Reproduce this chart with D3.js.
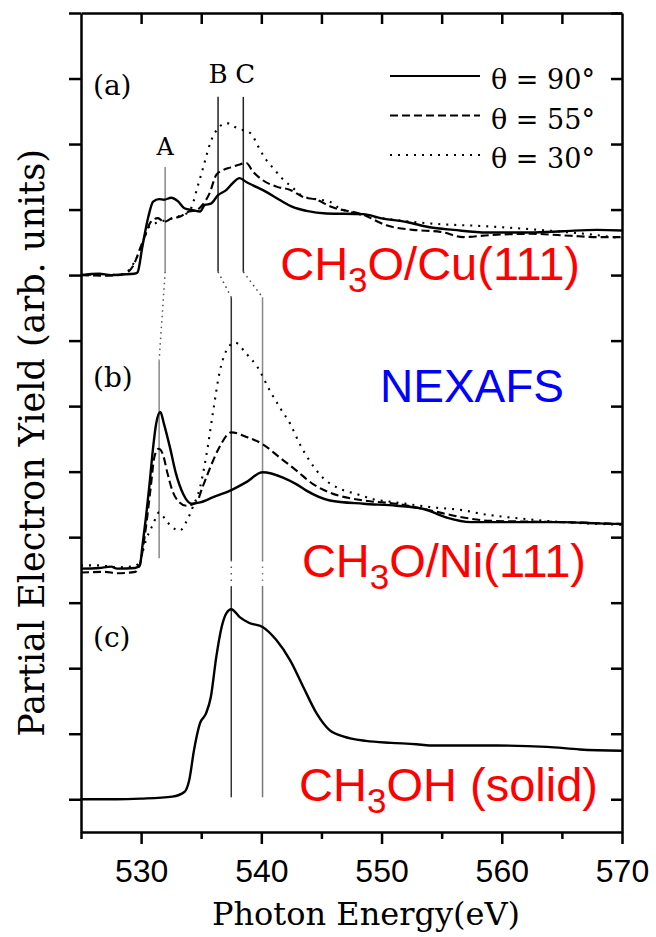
<!DOCTYPE html>
<html>
<head>
<meta charset="utf-8">
<script src="https://cdn.jsdelivr.net/npm/d3@7"></script>
<style>
  body { margin: 0; background: #fff; }
  svg { display: block; }
</style>
</head>
<body>
<svg id="chart" width="656" height="937"></svg>
<script>
// spectra: [photon energy (eV), yield above the panel baseline (arb. units)]
// (a) CH3O/Cu(111)
const cu90 = [[525,0],[526.5,0.02],[527.5,0],[528.5,0.01],[529.4,0.02],[529.7,0.04],[530.1,0.43],[530.6,0.89],[531.0,1.12],[531.5,1.16],[531.9,1.15],[532.5,1.18],[533.1,1.12],[533.6,1.02],[534.3,0.99],[534.9,0.97],[535.3,1.07],[535.8,1.09],[536.4,1.22],[537.1,1.30],[537.6,1.40],[538.2,1.48],[538.75,1.42],[539.3,1.37],[540.4,1.27],[541.5,1.15],[542.6,1.04],[543.75,0.98],[545.4,0.94],[548.5,0.93],[549.9,0.87],[552.1,0.81],[554.0,0.73],[556.0,0.69],[558.75,0.65],[562.4,0.65],[565.1,0.67],[567.9,0.69],[570,0.68]];
const cu55 = [[525,0],[527,-0.01],[528.5,0.01],[529.3,0.13],[530.0,0.45],[530.4,0.64],[530.8,0.81],[531.4,0.87],[531.9,0.81],[532.6,0.87],[533.2,0.89],[534.0,0.97],[534.6,0.99],[535.1,1.07],[535.7,1.25],[536.25,1.53],[536.8,1.60],[537.4,1.64],[538.05,1.68],[538.75,1.71],[539.3,1.58],[540.1,1.45],[541.25,1.35],[542.4,1.30],[543.5,1.19],[544.6,1.15],[545.7,1.05],[548.5,0.92],[550.4,0.76],[552.6,0.69],[554.9,0.66],[556.8,0.58],[559.0,0.61],[562.4,0.63],[565.7,0.60],[567.9,0.58],[570,0.58]];
const cu30 = [[525,0.01],[527,0],[528.6,0.02],[529.2,0.13],[529.6,0.25],[530.1,0.48],[530.7,0.74],[531.5,0.81],[532.1,0.84],[533.05,0.89],[534.0,0.97],[534.3,1.09],[534.7,1.35],[535.1,1.60],[535.4,1.80],[535.8,2.04],[536.1,2.16],[537.1,2.32],[537.8,2.26],[538.5,2.21],[539.2,2.15],[539.6,2.01],[540.4,1.76],[541.0,1.63],[541.7,1.48],[542.5,1.35],[543.6,1.19],[544.9,1.15],[545.7,1.12],[546.5,1.02],[547.9,0.94],[551.25,0.84],[554.6,0.78],[558.2,0.75],[562.4,0.70],[565.1,0.66],[567.9,0.61],[570,0.56]];
// (b) CH3O/Ni(111)
const ni90 = [[525,0],[526.5,0.01],[527.5,0.03],[528,0],[529.5,0.01],[529.9,0.05],[530.1,0.33],[530.4,0.78],[530.7,1.29],[531.0,1.85],[531.25,2.21],[531.6,2.39],[531.9,2.21],[532.4,1.85],[532.9,1.45],[533.5,1.14],[534.2,0.99],[534.9,1.01],[536.0,1.09],[537.4,1.19],[538.75,1.32],[540.1,1.47],[541.8,1.39],[542.9,1.29],[543.75,1.19],[545.7,1.04],[548.5,0.99],[551.25,0.96],[553.5,0.91],[555.4,0.78],[557.4,0.71],[561,0.71],[565.1,0.71],[567.9,0.69],[570,0.68]];
const ni55 = [[525,-0.06],[527,-0.05],[528,-0.07],[529.5,-0.05],[529.9,0.07],[530.4,0.63],[530.8,1.24],[531.1,1.70],[531.45,1.83],[531.8,1.75],[532.2,1.45],[532.6,1.19],[533.2,1.01],[533.75,0.96],[534.6,1.01],[535.1,1.24],[535.7,1.52],[536.5,1.85],[537.5,2.08],[538.75,2.01],[540.1,1.90],[541.5,1.70],[542.9,1.50],[544.3,1.29],[545.7,1.16],[548.5,1.04],[551.25,0.99],[554.0,0.89],[556.8,0.78],[559.0,0.73],[565,0.71],[570,0.68]];
const ni30 = [[525,0.05],[526.5,0.05],[528,0.02],[529.5,0.04],[529.9,0.12],[530.4,0.43],[531.0,0.68],[531.5,0.86],[532.1,0.73],[532.6,0.63],[533.2,0.58],[533.75,0.71],[534.3,0.94],[534.9,1.24],[535.4,1.70],[536.0,2.41],[536.5,2.97],[537.1,3.33],[537.8,3.45],[538.75,3.28],[539.7,3.07],[540.7,2.72],[541.6,2.44],[542.4,2.21],[543.2,1.90],[544.0,1.65],[545.1,1.39],[546.5,1.22],[547.9,1.14],[549.3,1.06],[551.25,1.01],[554.0,0.94],[556.8,0.89],[558.2,0.84],[561.8,0.76],[565.1,0.71],[570,0.67]];
// (c) CH3OH (solid)
const solid = [[525,0],[528,0],[530,0.01],[532.6,0.04],[533.6,0.11],[534.0,0.29],[534.4,0.75],[534.9,1.16],[535.4,1.31],[535.8,1.56],[536.25,2.17],[536.7,2.63],[537.1,2.84],[537.5,2.90],[538.2,2.78],[539.0,2.69],[540.1,2.63],[541.25,2.43],[542.4,2.12],[543.5,1.71],[544.6,1.31],[545.7,1.05],[546.8,0.96],[548.7,0.89],[550.8,0.86],[552.9,0.84],[554.0,0.82],[559.6,0.82],[563.75,0.80],[566.5,0.76],[570,0.74]];

const panelOffsets = [8, 3.52, 0];
const panelLetters = ["(a)", "(b)", "(c)"];
const angles = ["θ = 90°", "θ = 55°", "θ = 30°"];
const resonancesCu = [532.0, 536.4, 538.5];   // A, B, C on Cu(111)
const resonancesNi = [531.5, 537.5, 540.1];   // A, B, C on Ni(111) and solid
const xTicks = d3.range(525, 571, 5);
const xLabels = [530, 540, 550, 560, 570];
const yTicks = d3.range(0, 13);

const svg = d3.select('#chart');
const x = d3.scaleLinear().domain([525, 570]).range([81, 622]);
const y = d3.scaleLinear().domain([-0.5, 12]).range([832, 13]);

const serif = '"DejaVu Serif", serif';
const sans = '"Liberation Sans", Arial, sans-serif';

// styles per angle: solid, dashed, dotted
const dashes = [null, '8,4', '2,6'];

function drawSpectrum(data, offset, dash) {
    const line = d3.line()
        .x(d => x(d[0]))
        .y(d => y(d[1] + offset))
        .curve(d3.curveMonotoneX);
    svg.append('path')
        .datum(data)
        .attr('d', line)
        .attr('fill', 'none')
        .attr('stroke', '#000')
        .attr('stroke-width', dash ? 2.1 : 2.4)
        .attr('stroke-dasharray', dash);
}

function seg(e1, v1, e2, v2, color, dash) {
    svg.append('line')
        .attr('x1', x(e1)).attr('y1', y(v1))
        .attr('x2', x(e2)).attr('y2', y(v2))
        .attr('stroke', color)
        .attr('stroke-width', 1.5)
        .attr('stroke-dasharray', dash);
}

// resonance marker lines
seg(resonancesCu[0], 9.65, resonancesCu[0], 8.05, '#888');
seg(resonancesCu[1], 10.72, resonancesCu[1], 8.05, '#222');
seg(resonancesCu[2], 10.72, resonancesCu[2], 8.05, '#222');
seg(resonancesCu[0], 8.05, resonancesNi[0], 6.70, '#555', '1.5,4');
seg(resonancesCu[1], 8.05, resonancesNi[1], 7.66, '#444', '1.5,4');
seg(resonancesCu[2], 8.05, resonancesNi[2], 7.66, '#444', '1.5,4');
seg(resonancesNi[0], 6.70, resonancesNi[0], 3.68, '#888');
seg(resonancesNi[1], 7.66, resonancesNi[1], 3.65, '#333');
seg(resonancesNi[2], 7.66, resonancesNi[2], 3.65, '#888');
seg(resonancesNi[1], 3.65, resonancesNi[1], 3.24, '#555', '1.5,5');
seg(resonancesNi[2], 3.65, resonancesNi[2], 3.24, '#777', '1.5,5');
seg(resonancesNi[1], 3.24, resonancesNi[1], 0.03, '#333');
seg(resonancesNi[2], 3.24, resonancesNi[2], 0.03, '#777');

// spectra
[cu90, cu55, cu30].forEach((s, i) => drawSpectrum(s, panelOffsets[0], dashes[i]));
[ni90, ni55, ni30].forEach((s, i) => drawSpectrum(s, panelOffsets[1], dashes[i]));
drawSpectrum(solid, panelOffsets[2], null);

// axes
function styleAxis(g) {
    g.selectAll('path').attr('stroke', '#000').attr('stroke-width', 2.5);
    g.selectAll('line').attr('stroke', '#000').attr('stroke-width', 2.5);
}

svg.append('g')
    .attr('transform', `translate(${x(525)},0)`)
    .call(d3.axisLeft(y).tickValues(yTicks).tickSize(12).tickSizeOuter(0).tickFormat(''))
    .call(styleAxis);

svg.append('g')
    .attr('transform', `translate(${x(570)},0)`)
    .call(d3.axisRight(y).tickValues(yTicks).tickSize(-11).tickSizeOuter(0).tickFormat(''))
    .call(styleAxis);

svg.append('g')
    .attr('transform', `translate(0,${y(12)})`)
    .call(d3.axisTop(x).tickValues(xTicks.slice(1, -1)).tickSize(-11).tickSizeOuter(0).tickFormat(''))
    .call(styleAxis);

const bottom = svg.append('g')
    .attr('transform', `translate(0,${y(-0.5)})`)
    .call(d3.axisBottom(x).tickValues(xTicks).tickSize(7).tickSizeOuter(0)
        .tickFormat(d => xLabels.includes(d) ? d : ''))
    .call(styleAxis);
bottom.selectAll('.tick line').filter(d => xLabels.includes(d)).attr('y2', 12);
bottom.selectAll('.tick text')
    .attr('y', 50).attr('dy', 0)
    .attr('fill', '#000')
    .style('font-family', sans)
    .style('font-size', '32px');

// axis titles
svg.append('text')
    .attr('x', 366).attr('y', 925)
    .attr('text-anchor', 'middle')
    .style('font-family', serif).style('font-size', '32px')
    .text('Photon Energy(eV)');

svg.append('text')
    .attr('transform', 'translate(44,443) rotate(-90)')
    .attr('text-anchor', 'middle')
    .style('font-family', serif).style('font-size', '35px')
    .text('Partial Electron Yield (arb. units)');

// panel letters
const letterBase = [95, 387, 647];
panelLetters.forEach((t, i) => {
    svg.append('text')
        .attr('x', 93).attr('y', letterBase[i])
        .style('font-family', serif).style('font-size', '28px')
        .text(t);
});

// resonance labels
svg.append('text').attr('x', x(resonancesCu[0])).attr('y', 155)
    .attr('text-anchor', 'middle')
    .style('font-family', serif).style('font-size', '24px').text('A');
svg.append('text').attr('x', x(resonancesCu[1])).attr('y', 83)
    .attr('text-anchor', 'middle')
    .style('font-family', serif).style('font-size', '26px').text('B');
svg.append('text').attr('x', x(resonancesCu[2]) + 2).attr('y', 83)
    .attr('text-anchor', 'middle')
    .style('font-family', serif).style('font-size', '26px').text('C');

// legend
angles.forEach((t, i) => {
    const ly = 76 + i * 39.5;
    svg.append('line')
        .attr('x1', 390).attr('x2', 480)
        .attr('y1', ly).attr('y2', ly)
        .attr('stroke', '#000').attr('stroke-width', 2)
        .attr('stroke-dasharray', dashes[i]);
    svg.append('text')
        .attr('x', 491).attr('y', ly + 13)
        .style('font-family', serif).style('font-size', '27px')
        .text(t);
});

// sample labels
function sampleLabel(parts, xEnd, base) {
    const t = svg.append('text')
        .attr('x', xEnd).attr('y', base)
        .attr('text-anchor', 'end')
        .attr('fill', '#ff0000')
        .style('font-family', sans).style('font-size', '47px');
    t.append('tspan').text(parts[0]);
    t.append('tspan').attr('dy', 12).style('font-size', '35px').text('3');
    t.append('tspan').attr('dy', -12).text(parts[1]);
}
sampleLabel(['CH', 'O/Cu(111)'], 580, 280);
sampleLabel(['CH', 'O/Ni(111)'], 586, 577);
sampleLabel(['CH', 'OH (solid)'], 598, 801);

svg.append('text')
    .attr('x', 380).attr('y', 402)
    .attr('fill', '#0000ff')
    .style('font-family', sans).style('font-size', '46px')
    .text('NEXAFS');
</script>
</body>
</html>
